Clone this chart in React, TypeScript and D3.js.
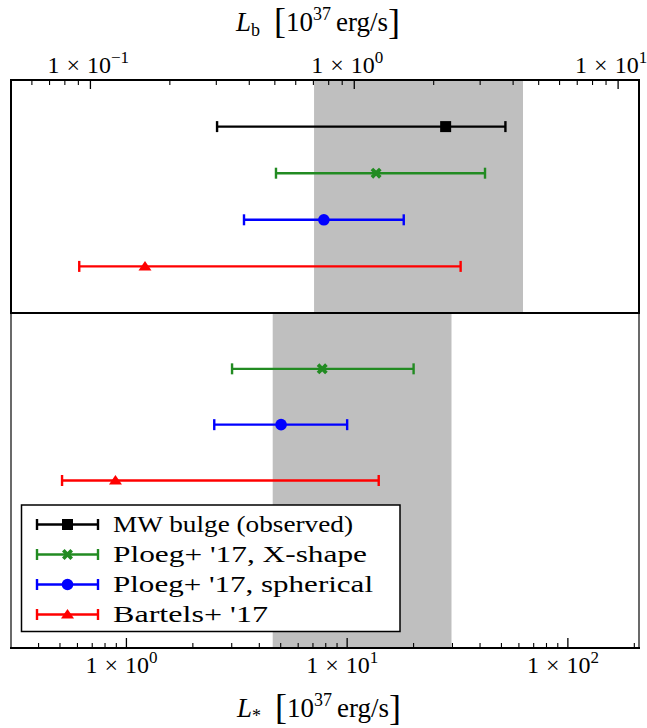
import React from "react";
import * as d3 from "d3";

// ---- Data ----
const seriesNames = ["MW bulge (observed)", "Ploeg+ '17, X-shape", "Ploeg+ '17, spherical", "Bartels+ '17"];
const seriesColors = ["#000000", "#228B22", "#0000FF", "#FF0000"];
const seriesMarkers = ["square", "x", "circle", "triangle"];
const legendTextWidths = [240, 254, 260, 155];

// Top panel: L_b  (order: MW, X-shape, spherical, Bartels)
const topCenter = [2.22, 1.21, 0.767, 0.161];
const topLow = [0.302, 0.505, 0.382, 0.0907];
const topHigh = [3.74, 3.13, 1.54, 2.53];
const topBand = [0.704, 4.36];

// Bottom panel: L_*  (order: X-shape, spherical, Bartels)
const botSeries = [1, 2, 3];
const botCenter = [7.71, 5.02, 0.892];
const botLow = [3.01, 2.5, 0.511];
const botHigh = [20.0, 10.0, 13.9];
const botBand = [4.6, 29.7];

const topTickValues = [0.1, 1, 10];
const topTickExps = ["\u22121", "0", "1"];
const botTickValues = [1, 10, 100];
const botTickExps = ["0", "1", "2"];

const W = 647;
const H = 728;
const L = 11;
const R = 639;
const topY0 = 80;
const midY = 313;
const botY1 = 648;
const FONT = "'Liberation Serif', serif";

function Marker({ type, x, y, color }: { type: string; x: number; y: number; color: string }) {
  if (type === "square") return <rect x={x - 5.5} y={y - 5.5} width={11} height={11} fill={color} />;
  if (type === "circle") return <circle cx={x} cy={y} r={5.8} fill={color} />;
  if (type === "triangle")
    return <path d={`M${x},${y - 5.5} L${x + 6.5},${y + 4} L${x - 6.5},${y + 4} Z`} fill={color} />;
  // filled X
  const a = 5.5, t = 2.6;
  const d = `M${x - a},${y - a + t} L${x - a + t},${y - a} L${x},${y - t} L${x + a - t},${y - a} L${x + a},${y - a + t} L${x + t},${y} L${x + a},${y + a - t} L${x + a - t},${y + a} L${x},${y + t} L${x - a + t},${y + a} L${x - a},${y + a - t} L${x - t},${y} Z`;
  return <path d={d} fill={color} />;
}

function ErrorBar({ x0, x1, xc, y, color, type }: any) {
  return (
    <g>
      <line x1={x0} x2={x1} y1={y} y2={y} stroke={color} strokeWidth={2.4} />
      <line x1={x0} x2={x0} y1={y - 5.5} y2={y + 5.5} stroke={color} strokeWidth={2.4} />
      <line x1={x1} x2={x1} y1={y - 5.5} y2={y + 5.5} stroke={color} strokeWidth={2.4} />
      <Marker type={type} x={xc} y={y} color={color} />
    </g>
  );
}

function SciLabel({ x, y, exp }: { x: number; y: number; exp: string }) {
  return (
    <text x={x} y={y} fontFamily={FONT} fontSize={24} fill="#000">
      1<tspan dx={7}>×</tspan>
      <tspan dx={7}>10</tspan>
      <tspan dy={-10} fontSize={17}>{exp}</tspan>
    </text>
  );
}

function AxisTitle({ x, y, sub, subSize }: { x: number; y: number; sub: string; subSize: number }) {
  return (
    <text x={x} y={y} fontFamily={FONT} fontSize={27} fill="#000">
      <tspan fontStyle="italic">L</tspan>
      <tspan dy={5} fontSize={subSize}>{sub}</tspan>
      <tspan dy={-3} dx={14} fontSize={36}>[</tspan>
      <tspan dy={-2}>10</tspan>
      <tspan dy={-11} fontSize={18}>37</tspan>
      <tspan dy={11} dx={5}>erg/s</tspan>
      <tspan dy={3} fontSize={36}>]</tspan>
    </text>
  );
}

export default function App() {
  const xTop = d3.scaleLog().domain([0.05, 12]).range([L, R]);
  const xBot = d3.scaleLog().domain([0.3, 210]).range([L, R]);
  const yTop = d3.scaleLinear().domain([0, 5]).range([midY, topY0]);
  const yBot = d3.scaleLinear().domain([0, 6]).range([botY1, midY]);

  const topMinor = xTop.ticks().filter((v) => !topTickValues.includes(v) && xTop(v) > L + 1 && xTop(v) < R - 1);
  const botMinor = xBot.ticks().filter((v) => !botTickValues.includes(v) && xBot(v) > L + 1 && xBot(v) < R - 1);

  const legendX = 21.5;
  const legendY = 505;
  const legendW = 378.5;
  const legendH = 126.5;
  const rowY = d3.scaleLinear().domain([0, 3]).range([524.5, 614.5]);

  return (
    <svg width={W} height={H} style={{ position: "absolute", left: 0, top: 0, background: "#fff" }}>
      <rect x={0} y={0} width={W} height={H} fill="#fff" />
      {/* bands */}
      <rect x={xTop(topBand[0])} y={topY0} width={xTop(topBand[1]) - xTop(topBand[0])} height={midY - topY0} fill="#BFBFBF" />
      <rect x={xBot(botBand[0])} y={midY} width={xBot(botBand[1]) - xBot(botBand[0])} height={botY1 - midY} fill="#BFBFBF" />

      {/* top panel error bars */}
      {topCenter.map((c, i) => (
        <ErrorBar key={"t" + i} x0={xTop(topLow[i])} x1={xTop(topHigh[i])} xc={xTop(c)} y={yTop(4 - i)} color={seriesColors[i]} type={seriesMarkers[i]} />
      ))}
      {/* bottom panel error bars */}
      {botCenter.map((c, i) => (
        <ErrorBar key={"b" + i} x0={xBot(botLow[i])} x1={xBot(botHigh[i])} xc={xBot(c)} y={yBot(5 - i)} color={seriesColors[botSeries[i]]} type={seriesMarkers[botSeries[i]]} />
      ))}

      {/* ticks */}
      {topTickValues.map((v) => (
        <line key={"tM" + v} x1={xTop(v)} x2={xTop(v)} y1={topY0} y2={topY0 + 9} stroke="#000" strokeWidth={1.3} />
      ))}
      {topMinor.map((v) => (
        <line key={"tm" + v} x1={xTop(v)} x2={xTop(v)} y1={topY0} y2={topY0 + 5} stroke="#000" strokeWidth={1.1} />
      ))}
      {botTickValues.map((v) => (
        <line key={"bM" + v} x1={xBot(v)} x2={xBot(v)} y1={botY1} y2={botY1 - 10} stroke="#000" strokeWidth={1.3} />
      ))}
      {botMinor.map((v) => (
        <line key={"bm" + v} x1={xBot(v)} x2={xBot(v)} y1={botY1} y2={botY1 - 5} stroke="#000" strokeWidth={1.1} />
      ))}

      {/* frames */}
      <line x1={L} x2={L} y1={midY} y2={botY1} stroke="#444" strokeWidth={1.6} />
      <line x1={R} x2={R} y1={midY} y2={botY1} stroke="#444" strokeWidth={1.6} />
      <line x1={L - 1} x2={R + 1} y1={botY1} y2={botY1} stroke="#000" strokeWidth={2} />
      <rect x={L} y={topY0} width={R - L} height={midY - topY0} fill="none" stroke="#000" strokeWidth={2} />

      {/* tick labels */}
      {topTickValues.map((v, i) => (
        <SciLabel key={"tl" + v} x={xTop(v) - 43} y={73} exp={topTickExps[i]} />
      ))}
      {botTickValues.map((v, i) => (
        <SciLabel key={"bl" + v} x={xBot(v) - 41} y={673} exp={botTickExps[i]} />
      ))}

      {/* axis titles */}
      <AxisTitle x={236} y={31} sub="b" subSize={18} />
      <AxisTitle x={237} y={717} sub="*" subSize={18} />

      {/* legend */}
      <rect x={legendX} y={legendY} width={legendW} height={legendH} fill="#fff" stroke="#000" strokeWidth={1.5} />
      {seriesNames.map((name, i) => {
        const y = rowY(i);
        return (
          <g key={"lg" + i}>
            <line x1={37} x2={98} y1={y} y2={y} stroke={seriesColors[i]} strokeWidth={2.4} />
            <line x1={37} x2={37} y1={y - 5.5} y2={y + 5.5} stroke={seriesColors[i]} strokeWidth={2.4} />
            <line x1={98} x2={98} y1={y - 5.5} y2={y + 5.5} stroke={seriesColors[i]} strokeWidth={2.4} />
            <Marker type={seriesMarkers[i]} x={67.5} y={y} color={seriesColors[i]} />
            <text x={113} y={y + 7.5} fontFamily={FONT} fontSize={24} fill="#000" textLength={legendTextWidths[i]} lengthAdjust="spacingAndGlyphs">{name}</text>
          </g>
        );
      })}
    </svg>
  );
}
